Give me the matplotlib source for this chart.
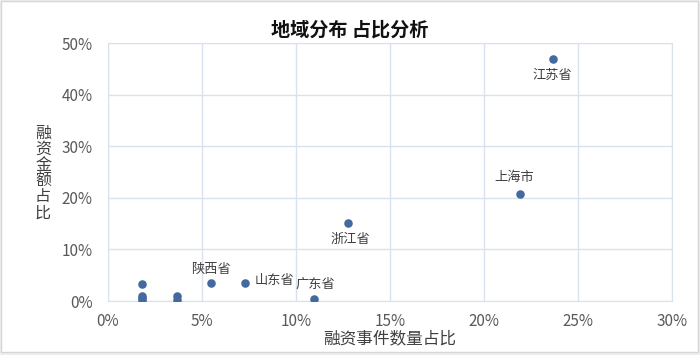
import matplotlib
matplotlib.use("Agg")
import matplotlib.pyplot as plt
from matplotlib.ticker import PercentFormatter
from matplotlib.patches import Rectangle

plt.rcParams['font.family'] = ['Noto Sans CJK SC', 'DejaVu Sans']

x_share = [23.65, 21.9, 12.75, 5.5, 7.3, 10.95, 1.8, 1.8, 1.8, 1.8, 3.65, 3.65]
y_share = [46.9, 20.7, 15.1, 3.5, 3.5, 0.4, 3.2, 1.0, 0.5, 0.1, 1.0, 0.1]
labels = ['江苏省', '上海市', '浙江省', '陕西省', '山东省', '广东省', '', '', '', '', '', '']
label_pos = {'江苏省': (0, -7, 'center', 'top'),
             '上海市': (-4, 7, 'center', 'bottom'),
             '浙江省': (2, -7, 'center', 'top'),
             '陕西省': (0, 5, 'center', 'bottom'),
             '山东省': (7, 2, 'left', 'center'),
             '广东省': (1, 6, 'center', 'bottom')}
y_title = '融资金额占比'

fig = plt.figure(figsize=(7.0, 3.55), dpi=100)
fig.patch.set_facecolor('#eeeeee')
fig.add_artist(Rectangle((1/700, 3/355), 697/700, 351/355, transform=fig.transFigure,
                         facecolor='white', edgecolor='#d6d6d6', linewidth=1, zorder=0))
ax = fig.add_axes([108/700, 54/355, 564/700, 258/355])
ax.scatter(x_share, y_share, s=38, color='#44699f', zorder=3, linewidths=0)
for xv, yv, lab in zip(x_share, y_share, labels):
    if lab:
        dx, dy, ha, va = label_pos[lab]
        ax.annotate(lab, (xv, yv), xytext=(dx, dy), textcoords='offset points',
                    ha=ha, va=va, fontsize=9.5, color='#404040')
ax.set_xlim(0, 30)
ax.set_ylim(0, 50)
ax.set_xticks(range(0, 31, 5))
ax.set_yticks(range(0, 51, 10))
ax.xaxis.set_major_formatter(PercentFormatter(decimals=0))
ax.yaxis.set_major_formatter(PercentFormatter(decimals=0))
ax.grid(True, color='#d9e1ee', linewidth=1)
ax.set_axisbelow(True)
for s in ax.spines.values():
    s.set_color('#d9e1ee')
ax.tick_params(length=0, labelsize=11, labelcolor='#595959')
ax.tick_params(axis='x', pad=9)
ax.tick_params(axis='y', pad=11)
ax.set_xlabel('融资事件数量占比', fontsize=12, color='#404040', labelpad=0)
for i, ch in enumerate(y_title):
    fig.text(43/700, (355 - (133 + 16 * i)) / 355, ch, fontsize=11.5, color='#404040',
             ha='center', va='center')
fig.text(0.5, (355-30)/355, '地域分布 占比分析', fontsize=13.8, fontweight='bold',
         ha='center', va='center', color='#111111')
fig.savefig('out.png', dpi=100, facecolor=fig.get_facecolor())
